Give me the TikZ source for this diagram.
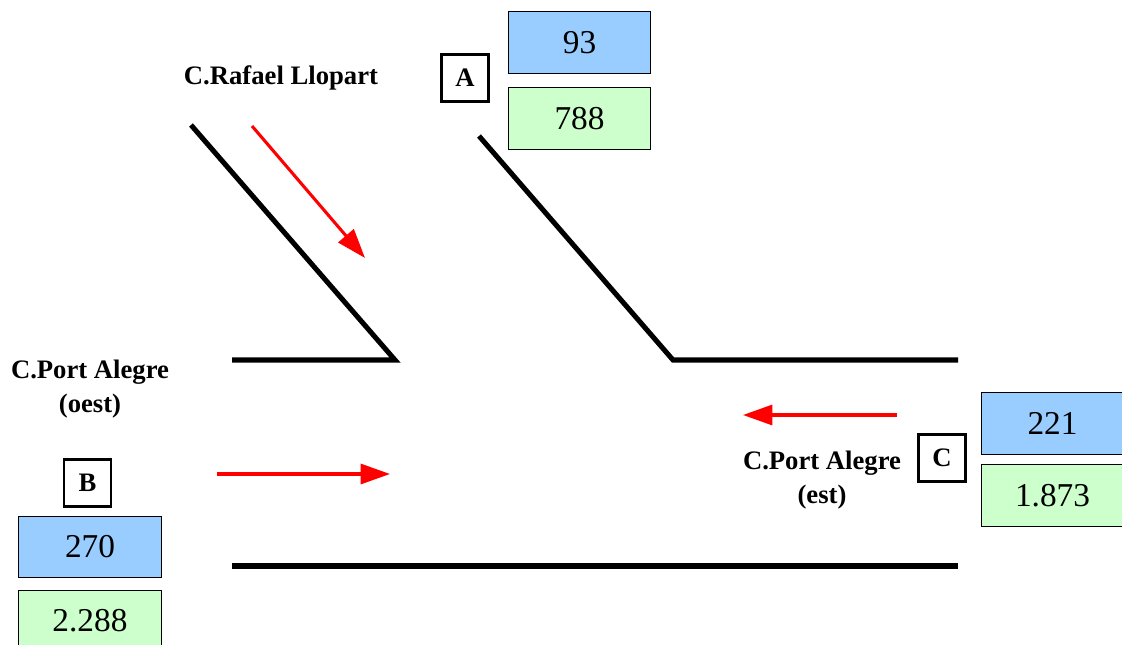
\documentclass[tikz,border=0pt]{standalone}
\usepackage{fontspec}
\setmainfont{Liberation Serif}
\usepackage{tikz}
\usetikzlibrary{positioning, arrows.meta}
\definecolor{cntblue}{HTML}{99CCFF}
\definecolor{cntgreen}{HTML}{CCFFCC}
\tikzset{
x=0.75pt, y=-0.75pt, % one unit is one pixel of the plan
road/.style={line width=3.8pt, line cap=butt}, % the kerb lines
flow/.style={red, line width=2.3pt, -{Triangle[length=22pt,width=15pt]}}, % traffic direction
tag/.style={draw, line width=1.8pt, minimum size=35pt, inner sep=0pt, font=\fontsize{20}{24}\bfseries\selectfont}, % A, B, C
count/.style={draw, line width=0.8pt, minimum width=107pt, minimum height=46pt, inner sep=0pt, font=\fontsize{25}{28}\selectfont}, % counts
light/.style={count, fill=cntblue}, % upper count
heavy/.style={count, fill=cntgreen}, % lower count
street/.style={align=center, font=\fontsize{20}{25}\bfseries\selectfont}, % street names
}

\begin{document}
\begin{tikzpicture}
            \useasboundingbox (0,0) rectangle (1122,645);

            % kerbs
            \coordinate (nwtop) at (191,125);
            \coordinate (nwcorner) at (395,360);
            \coordinate (nwend) at (232,360);
            \coordinate (netop) at (479,136);
            \coordinate (necorner) at (673,360);
            \coordinate (neend) at (958,360);
            \coordinate (swend) at (232,566);
            \coordinate (seend) at (958,566);
            \draw[road] (nwtop) -- (nwcorner) -- (nwend);
            \draw[road] (netop) -- (necorner) -- (neend);
            \draw[road] (swend) -- (seend);

            % street names
            \node[street] (rafael) at (281,78) {C.Rafael Llopart};
            \node[street] (oest) at (90,389) {C.Port Alegre\\(oest)};
            \node[street] (est) at (822,480) {C.Port Alegre\\(est)};

            % counting points
            \node[tag] (A) at (465,78) {A};
            \node[light] (Alight) at (579.5,42.5) {93};
            \node[heavy] (Aheavy) at (579.5,118.5) {788};
            \node[tag] (B) at (87.5,483) {B};
            \node[light] (Blight) at (90,547) {270};
            \node[heavy] (Bheavy) at (90,621) {2.288};
            \node[tag] (C) at (942,458) {C};
            \node[light] (Clight) at (1052.5,423.5) {221};
            \node[heavy] (Cheavy) at (1052.5,495.5) {1.873};

            % flows
            \coordinate (inA) at (252,126);
            \coordinate (outA) at (365,258);
            \coordinate (inB) at (217,474);
            \coordinate (outB) at (390,474);
            \coordinate (inC) at (897,415);
            \coordinate (outC) at (743,415);
            \draw[flow] (inA) -- (outA);
            \draw[flow] (inB) -- (outB);
            \draw[flow] (inC) -- (outC);
        \end{tikzpicture}
\end{document}
